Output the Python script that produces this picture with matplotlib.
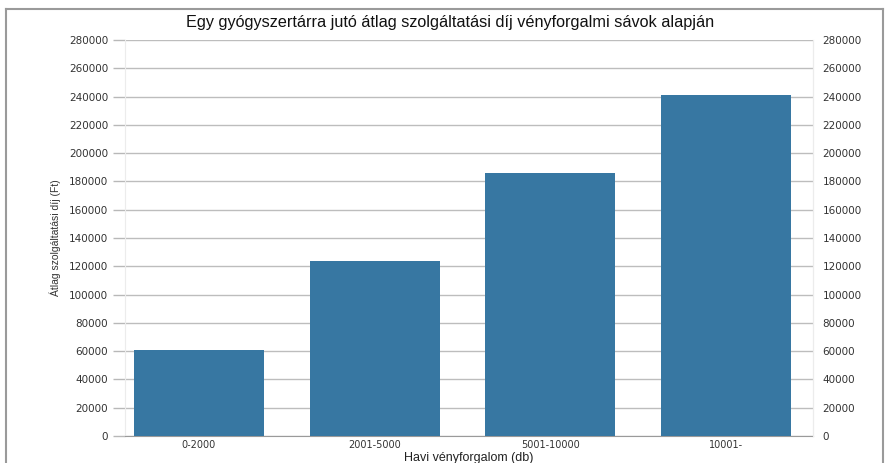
import matplotlib
matplotlib.use("Agg")
import matplotlib.pyplot as plt
from matplotlib.lines import Line2D

categories = ["0-2000", "2001-5000", "5001-10000", "10001-"]
values = [61000, 123500, 186000, 240800]
yticks = list(range(0, 280001, 20000))

title = "Egy gyógyszertárra jutó átlag szolgáltatási díj vényforgalmi sávok alapján"
xlabel = "Havi vényforgalom (db)"
ylabel = "Átlag szolgáltatási díj (Ft)"

W, H = 886, 463
fig = plt.figure(figsize=(W / 100, H / 100), dpi=100)
fig.patch.set_facecolor("white")

ax_l, ax_r, ax_b, ax_t = 125, 813, 436, 40
ax = fig.add_axes([ax_l / W, 1 - ax_b / H, (ax_r - ax_l) / W, (ax_b - ax_t) / H])

xpos = list(range(len(categories)))
ax.bar(xpos, values, width=0.74, color="#3777a2", zorder=3)
ax.set_xlim(-0.421, 3.495)
ax.set_ylim(0, 280000)

tsize = 7.5
ax.set_yticks(yticks)
ax.set_yticklabels([str(v) for v in yticks])
ax.set_xticks(xpos)
ax.set_xticklabels(categories)

ax.tick_params(axis="y", which="both", left=True, right=False, length=8.6,
               width=1, color="#b8b8b8", pad=3.5, labelsize=tsize, labelcolor="#333333")
ax.tick_params(axis="x", length=0, pad=3, labelsize=7, labelcolor="#333333")
for lbl in ax.get_yticklabels() + ax.get_xticklabels():
    lbl.set_family("DejaVu Sans")

# right-hand labels
ax2 = ax.twinx()
ax2.set_ylim(0, 280000)
ax2.set_yticks(yticks)
ax2.set_yticklabels([str(v) for v in yticks])
ax2.tick_params(axis="y", length=0, pad=7, labelsize=tsize, labelcolor="#333333")
for lbl in ax2.get_yticklabels():
    lbl.set_family("DejaVu Sans")

ax.grid(axis="y", color="#bdbdbd", linewidth=1, zorder=1)
ax.set_axisbelow(True)
for sp in ["top"]:
    ax.spines[sp].set_visible(False)
    ax2.spines[sp].set_visible(False)
ax.spines["left"].set_color("#ececec")
ax.spines["right"].set_color("#ececec")
ax2.spines["left"].set_visible(False)
ax2.spines["right"].set_color("#ececec")
ax.spines["bottom"].set_color("#9a9a9a")
ax2.spines["bottom"].set_visible(False)

ax.set_ylabel(ylabel, family=["Liberation Sans Narrow", "Liberation Sans"], fontsize=7.5,
              color="#333333", labelpad=6)
ax.set_xlabel(xlabel, family="Liberation Sans", fontsize=9, color="#222222", labelpad=1)

fig.text(450 / W, 1 - 22 / H, title, family="Liberation Sans", fontsize=11.7,
         ha="center", va="center", color="#111111")

# outer frame
frame_col = "#9a9a9a"
x0, x1, y0 = 6 / W, 883 / W, 1 - 9 / H
fig.add_artist(Line2D([x0, x0], [0, y0], transform=fig.transFigure, color=frame_col, lw=1.5))
fig.add_artist(Line2D([x0, x1], [y0, y0], transform=fig.transFigure, color=frame_col, lw=1.5))
fig.add_artist(Line2D([x1, x1], [0, y0], transform=fig.transFigure, color=frame_col, lw=1.5))

fig.savefig("out.png", dpi=100)
